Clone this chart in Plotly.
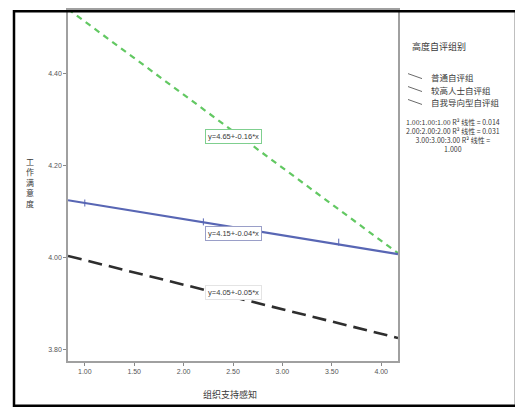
import plotly.graph_objects as go

# ---- data ----
x_ends = [0.83, 4.17]
green_y = [4.54, 4.01]     # 自我导向型自评组
blue_y = [4.125, 4.008]    # 普通自评组
black_y = [4.004, 3.826]   # 较高人士自评组

blue_pts_x = [1.00, 2.20, 3.57]
blue_pts_y = [4.119, 4.078, 4.034]

x_ticks = [1.00, 1.50, 2.00, 2.50, 3.00, 3.50, 4.00]
y_ticks = [3.80, 4.00, 4.20, 4.40]

green_label = "y=4.65+-0.16*x"
blue_label = "y=4.15+-0.04*x"
black_label = "y=4.05+-0.05*x"

legend_title = "高度自评组别"
legend_names = ["普通自评组", "较高人士自评组", "自我导向型自评组"]
r2_lines = ["1.00:1.00:1.00 R² 线性 = 0.014", "2.00:2.00:2.00 R² 线性 = 0.031",
            "3.00:3.00:3.00 R² 线性 =", "1.000"]
x_title = "组织支持感知"
y_title = "工作满意度"

# ---- layout geometry (page has an 8px body margin at top/left, so compensate) ----
OFF = 8
W, H = 523 - OFF, 411 - OFF
L, R, T, B = 68 - OFF, 125, 0, 50
PW, PH = W - L - R, H - T - B


def px(p):
    return (p - OFF - L) / PW


def py(p):
    return (H - B - (p - OFF)) / PH


CJK = "Noto Sans CJK SC, Liberation Sans, sans-serif"
NUM = "Liberation Sans, Arial, sans-serif"
TXT = "#3a3a3a"

GREEN = "#62c862"
BLUE = "#5866b4"
BLACK = "#2e2e2e"

fig = go.Figure()
fig.add_trace(go.Scatter(x=x_ends, y=green_y, mode="lines",
                         line=dict(color=GREEN, width=2.2, dash="6px,5px"), showlegend=False))
fig.add_trace(go.Scatter(x=x_ends, y=blue_y, mode="lines",
                         line=dict(color=BLUE, width=2.2), showlegend=False))
fig.add_trace(go.Scatter(x=blue_pts_x, y=blue_pts_y, mode="markers",
                         marker=dict(symbol="line-ns", size=5, line=dict(color=BLUE, width=1)),
                         showlegend=False))
fig.add_trace(go.Scatter(x=x_ends, y=black_y, mode="lines",
                         line=dict(color=BLACK, width=2.6, dash="14px,7px"), showlegend=False))

ann = []
for txt, yv, bc in [(green_label, 4.264, "#7fcf8f"), (blue_label, 4.052, "#9a9fc8"),
                    (black_label, 3.925, "#e4e4e4")]:
    ann.append(dict(x=2.50, y=yv, xref="x", yref="y", text=txt, showarrow=False,
                    font=dict(family=NUM, size=7.5, color=TXT), bgcolor="white",
                    bordercolor=bc, borderwidth=1, borderpad=2))

# axis titles
ann.append(dict(x=px(230), y=py(395), xref="paper", yref="paper", text=x_title, showarrow=False,
                xanchor="center", yanchor="middle", font=dict(family=CJK, size=9, color=TXT)))
ann.append(dict(x=px(30), y=py(181), xref="paper", yref="paper", text="<br>".join(y_title),
                showarrow=False, xanchor="center", yanchor="middle",
                font=dict(family=CJK, size=8, color=TXT)))

# legend
ann.append(dict(x=px(410), y=py(45), xref="paper", yref="paper", text=legend_title, showarrow=False,
                xanchor="left", yanchor="middle", font=dict(family=CJK, size=9, color=TXT)))
shapes = []
leg_y = [75, 88, 101]
for name, yy in zip(legend_names, leg_y):
    ann.append(dict(x=px(429), y=py(yy), xref="paper", yref="paper", text=name, showarrow=False,
                    xanchor="left", yanchor="middle", font=dict(family=CJK, size=8.5, color=TXT)))
    shapes.append(dict(type="line", xref="paper", yref="paper", x0=px(408), y0=py(yy - 3),
                       x1=px(422), y1=py(yy + 2), line=dict(color="#6a6a6a", width=1)))
ann.append(dict(x=px(453), y=py(114), xref="paper", yref="paper", text="<br>".join(r2_lines),
                showarrow=False, xanchor="center", yanchor="top", align="center",
                font=dict(family=CJK, size=7, color=TXT)))

# outer frame
shapes.append(dict(type="rect", xref="paper", yref="paper", x0=px(14), y0=py(406), x1=px(516), y1=py(9.3),
                   line=dict(color="black", width=2.5), layer="above"))

fig.update_layout(
    width=W, height=H, margin=dict(l=L, r=R, t=T, b=B, pad=0),
    paper_bgcolor="white", plot_bgcolor="white",
    annotations=ann, shapes=shapes, showlegend=False,
    xaxis=dict(range=[x_ends[0], x_ends[1]], tickvals=x_ticks,
               ticktext=[f"{v:.2f}" for v in x_ticks], showgrid=False, zeroline=False,
               showline=True, linecolor="#a0a0a0", linewidth=1.5, mirror=True,
               ticks="outside", ticklen=3, tickcolor="#888",
               tickfont=dict(family=NUM, size=7, color="#555")),
    yaxis=dict(range=[3.776, 4.538], tickvals=y_ticks,
               ticktext=[f"{v:.2f}" for v in y_ticks], showgrid=False, zeroline=False,
               showline=True, linecolor="#a0a0a0", linewidth=1.5, mirror=True,
               ticks="outside", ticklen=3, tickcolor="#888",
               tickfont=dict(family=NUM, size=7, color="#555")),
)

fig.write_html("out.html")
